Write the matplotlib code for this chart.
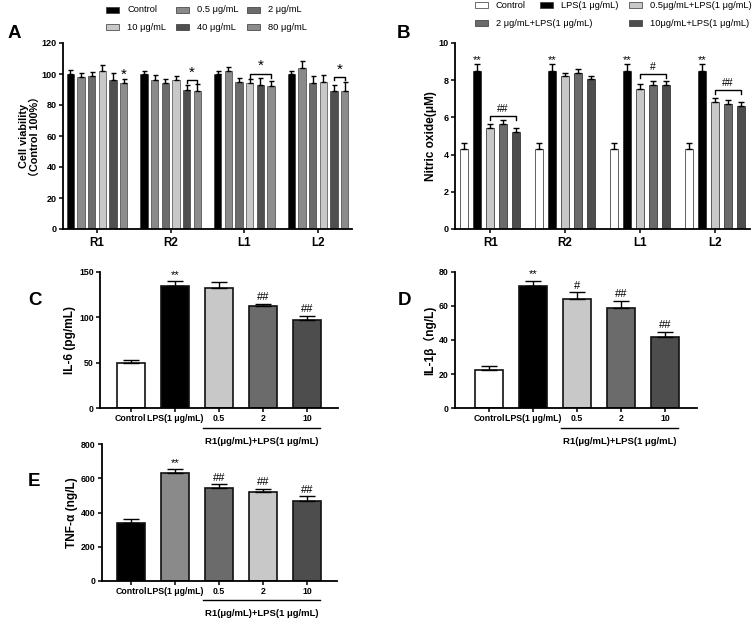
import numpy as np
import matplotlib.pyplot as plt
from matplotlib.patches import Rectangle
import matplotlib.transforms as mtransforms

plt.rcParams['font.family'] = ['Liberation Sans', 'Noto Sans CJK SC']
plt.rcParams['font.weight'] = 'bold'

W, H = 754, 619

# ---------------- data ----------------
groups = ["R1", "R2", "L1", "L2"]

# A: cell viability
cv_labels = ["Control", "0.5 μg/mL", "2 μg/mL", "10 μg/mL", "40 μg/mL", "80 μg/mL"]
cv_colors = ["#000000", "#8a8a8a", "#6b6b6b", "#c8c8c8", "#4f4f4f", "#8c8c8c"]
cv_mean = [[100, 98, 99, 102, 96, 94],
           [100, 96, 94, 96, 90, 89],
           [100, 102, 95, 94, 93, 92],
           [100, 104, 94, 95, 89, 89]]
cv_err = [[2.6, 2.4, 2.4, 3.6, 4.4, 2.6],
          [2.2, 3.5, 3.0, 2.6, 2.6, 4.5],
          [2.2, 2.5, 2.6, 2.6, 4.6, 3.6],
          [2.2, 4.5, 4.5, 4.5, 3.6, 6.0]]

# B: nitric oxide
no_labels = ["Control", "LPS(1 μg/mL)", "0.5μg/mL+LPS(1 μg/mL)",
             "2 μg/mL+LPS(1 μg/mL)", "10μg/mL+LPS(1 μg/mL)"]
no_colors = ["#ffffff", "#000000", "#c8c8c8", "#6b6b6b", "#4d4d4d"]
no_mean = [[4.3, 8.5, 5.45, 5.65, 5.2],
           [4.3, 8.5, 8.25, 8.4, 8.05],
           [4.3, 8.5, 7.55, 7.75, 7.75],
           [4.3, 8.5, 6.85, 6.7, 6.6]]
no_err = [[0.35, 0.35, 0.2, 0.2, 0.22],
          [0.35, 0.35, 0.15, 0.18, 0.2],
          [0.35, 0.35, 0.25, 0.2, 0.2],
          [0.35, 0.35, 0.2, 0.25, 0.25]]

# C, D, E: cytokines
cyto_ticks = ["Control", "LPS(1 μg/mL)", "0.5", "2", "10"]
il6_mean = [50, 135, 132, 112, 97]
il6_err = [3, 5, 7, 3, 5]
il6_sig = ["", "**", "", "##", "##"]
il1b_mean = [22.5, 72, 64, 59, 42]
il1b_err = [2.5, 3, 4, 4, 3]
il1b_sig = ["", "**", "#", "##", "##"]
tnf_mean = [340, 630, 545, 522, 465]
tnf_err = [22, 22, 20, 18, 30]
tnf_sig = ["", "**", "##", "##", "##"]

cd_colors = ["#ffffff", "#000000", "#c8c8c8", "#6b6b6b", "#4d4d4d"]
e_colors = ["#000000", "#8a8a8a", "#6b6b6b", "#c8c8c8", "#4d4d4d"]

fig = plt.figure(figsize=(W / 100, H / 100), dpi=100)


def px_axes(l, t, r, b):
    ax = fig.add_axes([l / W, 1 - b / H, (r - l) / W, (b - t) / H])
    ax.patch.set_visible(False)
    return ax


def style(ax, labelsize=6.5):
    for s in ["top", "right"]:
        ax.spines[s].set_visible(False)
    for s in ["left", "bottom"]:
        ax.spines[s].set_linewidth(1.3)
    ax.tick_params(width=1.1, length=3, labelsize=labelsize, pad=1.5)


def legend_entry(x, y, color, label):
    fig.patches.append(Rectangle((x / W, 1 - (y + 3) / H), 13 / W, 6 / H,
                                 transform=fig.transFigure, facecolor=color,
                                 edgecolor="#333333", linewidth=0.5))
    fig.text((x + 21) / W, 1 - y / H, label, fontsize=6.7, fontweight="normal",
             va="center", ha="left")


def bracket(ax, x1, x2, y, h, text, fs, dy):
    ax.plot([x1, x1, x2, x2], [y - h, y, y, y - h], color="k", lw=1)
    ax.text((x1 + x2) / 2, y + dy, text, ha="center", va="center",
            fontsize=fs, fontweight="normal")


# ---------------- A ----------------
axA = px_axes(63, 43, 352, 229)
xg = np.arange(len(groups))
offA = (np.arange(6) - 2.5) * 0.145
for i in range(6):
    m = [cv_mean[g][i] for g in range(4)]
    e = [cv_err[g][i] for g in range(4)]
    axA.bar(xg + offA[i], m, width=0.1, color=cv_colors[i], edgecolor="#222222",
            linewidth=0.4, yerr=[np.zeros(4), e], capsize=1.8,
            error_kw=dict(elinewidth=1, capthick=1))
axA.set_xlim(-0.46, 3.46)
axA.set_ylim(0, 120)
axA.set_yticks(range(0, 121, 20))
axA.set_xticks(xg)
axA.set_xticklabels(groups, fontsize=8.4, fontweight="bold")
style(axA)
axA.tick_params(axis="x", labelsize=8.4, pad=3)
axA.set_ylabel("Cell viability\n（Control 100%）", fontsize=7.8, fontweight="bold",
               labelpad=1, linespacing=1.05)
axA.text(0 + offA[5], cv_mean[0][5] + cv_err[0][5] + 3, "*", ha="center",
         va="center", fontsize=11, fontweight="normal")
bracket(axA, 1 + offA[4], 1 + offA[5], 96, 2, "*", 11, 5)
bracket(axA, 2 + offA[3], 2 + offA[5], 100, 2.5, "*", 11, 5)
bracket(axA, 3 + offA[4], 3 + offA[5], 98, 2, "*", 11, 5)

for (x, y), lab, col in zip([(106, 10), (176, 10), (247, 10), (106, 27), (176, 27), (247, 27)],
                            cv_labels, cv_colors):
    legend_entry(x, y, col, lab)

# ---------------- B ----------------
axB = px_axes(455, 43, 750, 229)
offB = (np.arange(5) - 2) * 0.173
for i in range(5):
    m = [no_mean[g][i] for g in range(4)]
    e = [no_err[g][i] for g in range(4)]
    axB.bar(xg + offB[i], m, width=0.11, color=no_colors[i], edgecolor="#222222",
            linewidth=0.5, yerr=[np.zeros(4), e], capsize=2.5,
            error_kw=dict(elinewidth=1, capthick=1))
axB.set_xlim(-0.47, 3.47)
axB.set_ylim(0, 10)
axB.set_yticks(range(0, 11, 2))
axB.set_xticks(xg)
axB.set_xticklabels(groups, fontsize=8.4, fontweight="bold")
style(axB)
axB.tick_params(axis="x", labelsize=8.4, pad=3)
axB.set_ylabel("Nitric oxide(μM)", fontsize=8.6, fontweight="bold", labelpad=1)
for g in range(4):
    axB.text(g + offB[1], no_mean[g][1] + no_err[g][1] + 0.25, "**", ha="center",
             va="center", fontsize=8, fontweight="normal")
bracket(axB, 0 + offB[2], 0 + offB[4], 6.07, 0.22, "##", 7.5, 0.4)
bracket(axB, 2 + offB[2], 2 + offB[4], 8.33, 0.22, "#", 7.5, 0.4)
bracket(axB, 3 + offB[2], 3 + offB[4], 7.47, 0.22, "##", 7.5, 0.4)

for (x, y), lab, col in zip([(475, 5), (540, 5), (629, 5), (475, 23), (629, 23)],
                            no_labels, no_colors):
    legend_entry(x, y, col, lab)


# ---------------- C, D, E ----------------
def cyto_panel(box, xlim, mean, err, sig, colors, ylim, yticks, ylabel, sig_off, line_y, text_y):
    ax = px_axes(*box)
    x = np.arange(len(mean))
    ax.bar(x, mean, width=0.64, color=colors, edgecolor="#111111", linewidth=1.2,
           yerr=[np.zeros(len(mean)), err], capsize=6,
           error_kw=dict(elinewidth=1, capthick=1))
    ax.set_xlim(*xlim)
    ax.set_ylim(*ylim)
    ax.set_yticks(yticks)
    ax.set_xticks(x)
    ax.set_xticklabels(cyto_ticks, fontweight="bold")
    style(ax, labelsize=6.3)
    ax.set_ylabel(ylabel, fontsize=8.6, fontweight="bold", labelpad=2)
    for i, s in enumerate(sig):
        if s:
            ax.text(x[i], mean[i] + err[i] + sig_off, s, ha="center", va="center",
                    fontsize=8, fontweight="normal")
    tr = mtransforms.blended_transform_factory(ax.transData, ax.transAxes)
    ax.plot([1.64, 4.3], [line_y, line_y], color="k", lw=1, transform=tr, clip_on=False)
    ax.text(2.97, text_y, "R1(μg/mL)+LPS(1 μg/mL)", transform=tr, ha="center",
            va="center", fontsize=6.8, fontweight="bold")
    return ax


cyto_panel((100, 272, 338, 408), (-0.70, 4.70), il6_mean, il6_err, il6_sig, cd_colors,
           (0, 150), [0, 50, 100, 150], "IL-6 (pg/mL)", 7, -0.147, -0.25)
cyto_panel((455, 272, 697, 408), (-0.77, 4.73), il1b_mean, il1b_err, il1b_sig, cd_colors,
           (0, 80), [0, 20, 40, 60, 80], "IL-1β（ng/L)", 3.8, -0.147, -0.25)
cyto_panel((102, 444, 337, 581), (-0.66, 4.68), tnf_mean, tnf_err, tnf_sig, e_colors,
           (0, 800), [0, 200, 400, 600, 800], "TNF-α (ng/L)", 38, -0.139, -0.234)

# panel letters
for lab, x, y in [("A", 8, 33), ("B", 397, 33), ("C", 28, 300), ("D", 398, 300), ("E", 28, 482)]:
    fig.text(x / W, 1 - y / H, lab, fontsize=13.5, fontweight="bold", va="center", ha="left")

fig.savefig("out.png", dpi=100)
